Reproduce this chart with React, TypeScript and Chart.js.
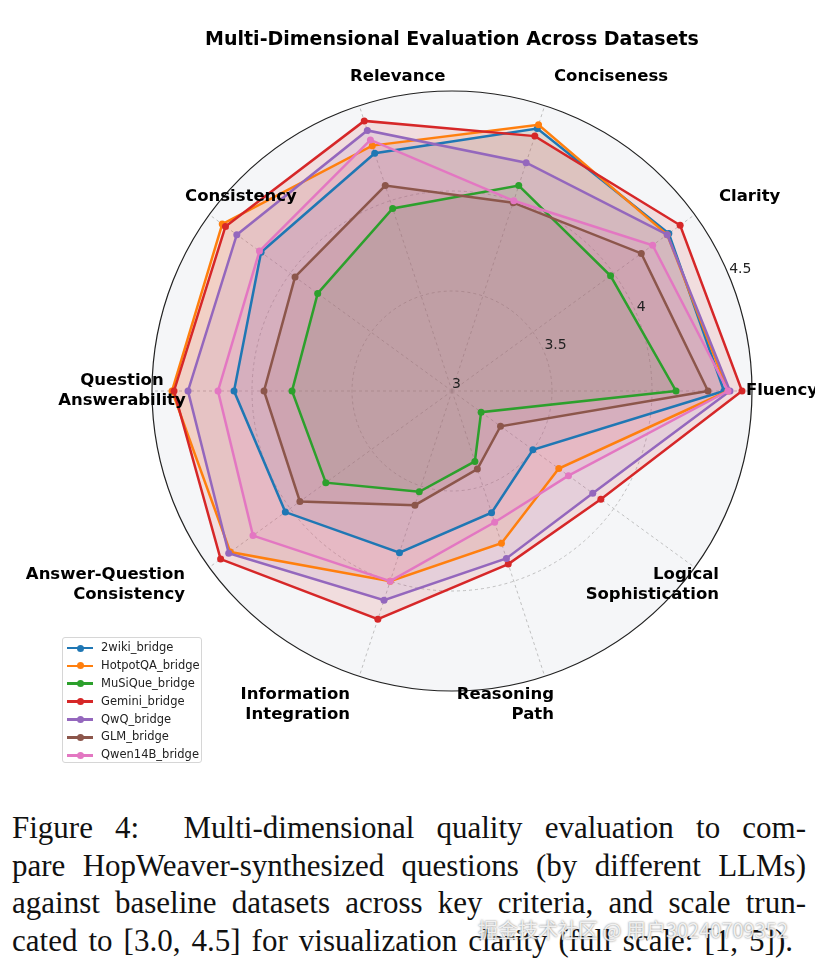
import React, { useEffect, useRef } from "react";
import { Chart, registerables } from "chart.js";

Chart.register(...registerables);

// Axes, counter-clockwise from the right (east)
const CATEGORIES = [
  "Fluency",
  "Clarity",
  "Conciseness",
  "Relevance",
  "Consistency",
  "Question\nAnswerability",
  "Answer-Question\nConsistency",
  "Information\nIntegration",
  "Reasoning\nPath",
  "Logical\nSophistication",
];

const SERIES_NAMES = [
  "2wiki_bridge",
  "HotpotQA_bridge",
  "MuSiQue_bridge",
  "Gemini_bridge",
  "QwQ_bridge",
  "GLM_bridge",
  "Qwen14B_bridge",
];

const COLORS = ["#1f77b4", "#ff7f0e", "#2ca02c", "#d62728", "#9467bd", "#8c564b", "#e377c2"];

const WIKI2_BRIDGE = [4.36, 4.34, 4.38, 4.25, 4.18, 4.09, 4.03, 3.85, 3.64, 3.5];
const HOTPOTQA_BRIDGE = [4.38, 4.33, 4.4, 4.29, 4.42, 4.4, 4.37, 4.0, 3.8, 3.66];
const MUSIQUE_BRIDGE = [4.12, 3.98, 4.08, 3.96, 3.83, 3.8, 3.78, 3.53, 3.37, 3.18];
const GEMINI_BRIDGE = [4.45, 4.41, 4.34, 4.42, 4.4, 4.39, 4.43, 4.2, 3.91, 3.92];
const QWQ_BRIDGE = [4.39, 4.33, 4.2, 4.37, 4.33, 4.32, 4.38, 4.1, 3.88, 3.87];
const GLM_BRIDGE = [4.28, 4.17, 3.99, 4.08, 3.97, 3.94, 3.94, 3.6, 3.41, 3.3];
const QWEN14B_BRIDGE = [4.38, 4.24, 4.0, 4.32, 4.19, 4.17, 4.23, 4.0, 3.69, 3.72];

const SERIES = [
  WIKI2_BRIDGE,
  HOTPOTQA_BRIDGE,
  MUSIQUE_BRIDGE,
  GEMINI_BRIDGE,
  QWQ_BRIDGE,
  GLM_BRIDGE,
  QWEN14B_BRIDGE,
];

const TICKS = [3, 3.5, 4, 4.5];
const TICK_LABELS = ["3", "3.5", "4", "4.5"];
const R_MIN = 3;
const R_MAX = 4.5;

const TITLE = "Multi-Dimensional Evaluation Across Datasets";

const CAPTION_LINES = [
  "Figure 4:\u00a0 Multi-dimensional quality evaluation to com-",
  "pare HopWeaver-synthesized questions (by different LLMs)",
  "against baseline datasets across key criteria, and scale trun-",
  "cated to [3.0, 4.5] for visualization clarity (full scale: [1, 5]).",
];

const WATERMARK = "掘金技术社区 @ 用户30240709352";

const FONT = "'DejaVu Sans', sans-serif";

// Chart.js goes clockwise; matplotlib goes counter-clockwise.
const ORDER = CATEGORIES.map((_, i) => (i === 0 ? 0 : CATEGORIES.length - i));
const reorder = <T,>(arr: T[]): T[] => ORDER.map((i) => arr[i]);

function hexA(hex: string, a: number) {
  const n = parseInt(hex.slice(1), 16);
  return `rgba(${(n >> 16) & 255},${(n >> 8) & 255},${n & 255},${a})`;
}

const polarDecor = {
  id: "polarDecor",
  beforeDraw(chart: any) {
    const s = chart.scales.r;
    const ctx = chart.ctx;
    ctx.save();
    ctx.beginPath();
    ctx.arc(s.xCenter, s.yCenter, s.drawingArea, 0, Math.PI * 2);
    ctx.fillStyle = "#f5f6f8";
    ctx.fill();
    ctx.restore();
  },
  afterDatasetsDraw(chart: any) {
    const s = chart.scales.r;
    const ctx = chart.ctx;
    ctx.save();
    // outer spine
    ctx.beginPath();
    ctx.arc(s.xCenter, s.yCenter, s.getDistanceFromCenterForValue(R_MAX), 0, Math.PI * 2);
    ctx.strokeStyle = "#222";
    ctx.lineWidth = 1.2;
    ctx.setLineDash([]);
    ctx.stroke();

    // radial tick labels at 22.5 degrees
    const ang = (22.5 * Math.PI) / 180;
    ctx.font = `14px ${FONT}`;
    ctx.fillStyle = "#222";
    ctx.textAlign = "left";
    ctx.textBaseline = "bottom";
    TICKS.forEach((v, i) => {
      const d = s.getDistanceFromCenterForValue(v);
      ctx.fillText(TICK_LABELS[i], s.xCenter + d * Math.cos(ang), s.yCenter - d * Math.sin(ang));
    });

    // category labels
    ctx.font = `bold 16.5px ${FONT}`;
    ctx.fillStyle = "#000";
    ctx.textBaseline = "middle";
    const lh = 19.6;
    const labels: string[] = chart.data.labels;
    labels.forEach((lab: string, i: number) => {
      const p = s.getPointPosition(i, s.drawingArea * 1.1);
      const dy = p.y - s.yCenter;
      ctx.textAlign = Math.abs(dy) < 1 ? "center" : dy < 0 ? "left" : "right";
      const lines = lab.split("\n");
      const y0 = p.y - ((lines.length - 1) * lh) / 2;
      lines.forEach((ln, k) => ctx.fillText(ln, p.x, y0 + k * lh));
    });
    ctx.restore();
  },
};

export default function App() {
  const ref = useRef<HTMLCanvasElement | null>(null);

  useEffect(() => {
    if (!ref.current) return;
    const chart = new Chart(ref.current, {
      type: "radar",
      data: {
        labels: reorder(CATEGORIES),
        datasets: SERIES.map((vals, i) => ({
          label: SERIES_NAMES[i],
          data: reorder(vals),
          borderColor: COLORS[i],
          backgroundColor: hexA(COLORS[i], 0.12),
          borderWidth: 2.5,
          pointRadius: 3.5,
          pointBackgroundColor: COLORS[i],
          pointBorderColor: COLORS[i],
          pointBorderWidth: 0,
          fill: true,
          order: SERIES.length - 1 - i,
        })),
      },
      options: {
        responsive: false,
        animation: false,
        layout: { padding: { left: 144, right: 63, top: 0, bottom: 96 } },
        elements: { line: { tension: 0 } },
        scales: {
          r: {
            min: R_MIN,
            max: R_MAX,
            startAngle: 90,
            ticks: { display: false, stepSize: 0.5 },
            pointLabels: { display: false },
            grid: {
              circular: true,
              color: (c: any) => (c.tick && c.tick.value >= R_MAX ? "rgba(0,0,0,0)" : "#b3b3b3"),
              lineWidth: 0.8,
            },
            border: { dash: [3, 3] },
            angleLines: { color: "#b3b3b3", lineWidth: 0.8, borderDash: [3, 3] },
          },
        },
        plugins: {
          legend: { display: false },
          tooltip: { enabled: false },
          filler: { drawTime: "beforeDatasetsDraw" },
          title: {
            display: true,
            text: TITLE,
            fullSize: false,
            color: "#000",
            font: { family: FONT, size: 19, weight: "bold" },
            padding: { top: 21, bottom: 40 },
          },
        },
      },
      plugins: [polarDecor],
    } as any);
    return () => chart.destroy();
  }, []);

  return (
    <div style={{ width: 807 }}>
      <div style={{ position: "relative", width: 807, height: 780 }}>
        <canvas ref={ref} width={807} height={780} style={{ display: "block" }} />
        <div
          style={{
            position: "absolute",
            left: 54,
            top: 629,
            width: 140,
            height: 126,
            boxSizing: "border-box",
            border: "1px solid #d6d6d6",
            borderRadius: 3,
            background: "rgba(255,255,255,0.85)",
            fontFamily: FONT,
            fontSize: 11.5,
            color: "#222",
            paddingTop: 1,
          }}
        >
          {SERIES_NAMES.map((n, i) => (
            <div key={n} style={{ position: "relative", height: 17.9, lineHeight: "17.9px" }}>
              <div
                style={{
                  position: "absolute",
                  left: 4,
                  top: 7.7,
                  width: 26,
                  height: 2.5,
                  background: COLORS[i],
                }}
              />
              <div
                style={{
                  position: "absolute",
                  left: 13.5,
                  top: 5.5,
                  width: 7,
                  height: 7,
                  borderRadius: "50%",
                  background: COLORS[i],
                }}
              />
              <span style={{ position: "absolute", left: 38 }}>{n}</span>
            </div>
          ))}
        </div>
      </div>
      <div
        style={{
          position: "relative",
          marginTop: 21,
          marginLeft: 4,
          fontFamily: "'Liberation Serif', 'Times New Roman', serif",
          fontSize: 31,
          lineHeight: "37.7px",
          color: "#111",
        }}
      >
        {CAPTION_LINES.map((ln, i) => (
          <div
            key={i}
            style={{
              width: i === 3 ? 781 : 794,
              textAlign: "justify",
              textAlignLast: "justify" as any,
              whiteSpace: "nowrap",
            }}
          >
            {ln}
          </div>
        ))}
        <div
          style={{
            position: "absolute",
            left: 466,
            top: 106,
            fontFamily: "'Noto Sans CJK SC', sans-serif",
            fontSize: 20,
            lineHeight: "30px",
            color: "rgba(255,255,255,0.85)",
            textShadow: "0 0 2px rgba(90,90,90,0.9)",
            whiteSpace: "nowrap",
          }}
        >
          {WATERMARK}
        </div>
      </div>
    </div>
  );
}
